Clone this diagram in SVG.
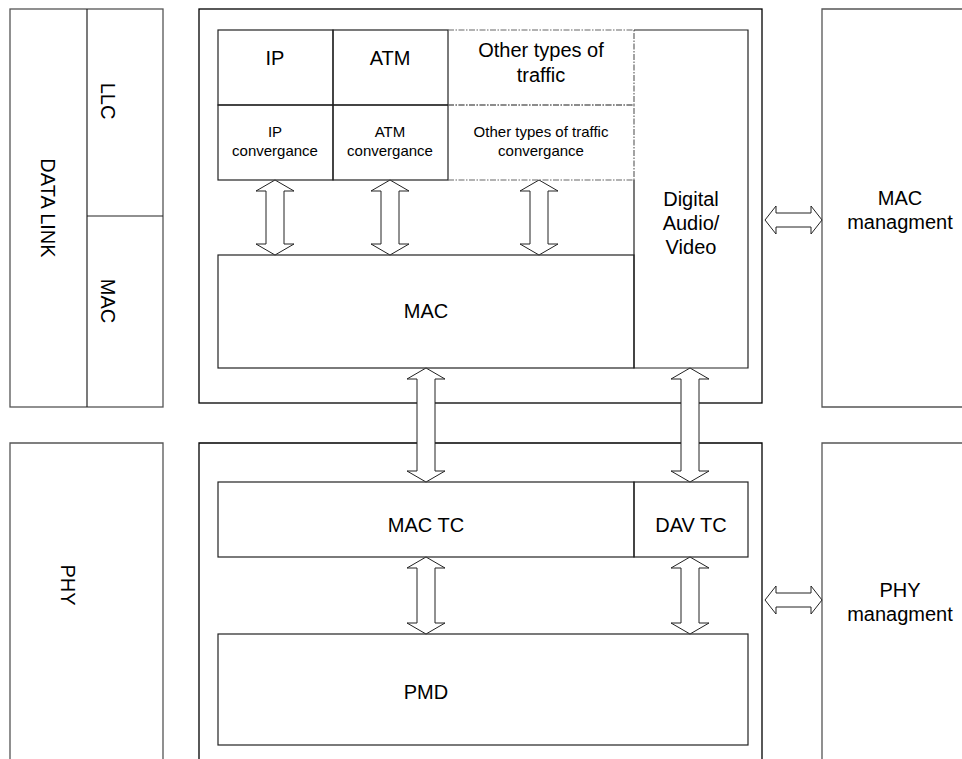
<svg xmlns="http://www.w3.org/2000/svg" width="962" height="759" viewBox="0 0 962 759">
<style>
.box{fill:none;stroke:#000;stroke-width:1.3}
.sbox{fill:none;stroke:#555;stroke-width:1.3}
.in{fill:none;stroke:#222;stroke-width:1.2}
.dot{fill:none;stroke:#666;stroke-width:1.2;stroke-dasharray:6 1.5 1.5 1.5}
.arr{fill:#fff;stroke:#222;stroke-width:1}
text{font-family:"Liberation Sans",Arial,sans-serif;fill:#000;text-anchor:middle}
.l{font-size:20px}
.s{font-size:15px}
</style>
<rect width="962" height="759" fill="#fff"/>
<g id="datalink">
<rect class="sbox" x="10" y="9" width="153" height="398"/>
<line class="in" x1="87" y1="9" x2="87" y2="407"/>
<line class="in" x1="87" y1="216" x2="163" y2="216"/>
<text class="l" transform="translate(41,208) rotate(90)">DATA LINK</text>
<text class="l" transform="translate(101,101) rotate(90)">LLC</text>
<text class="l" transform="translate(101,301) rotate(90)">MAC</text>
</g>
<g id="phy">
<path class="sbox" d="M10,770 V443 H163 V770"/>
<text class="l" transform="translate(61,585) rotate(90)">PHY</text>
</g>
<g id="top-box">
<rect class="box" x="199" y="9" width="563" height="394"/>
</g>
<g id="bottom-box">
<path class="box" d="M199,770 V443 H762 V770"/>
</g>
<g id="mac-mgmt">
<path class="sbox" d="M970,9 H822 V407 H970"/>
<text class="l" x="900" y="205">MAC</text>
<text class="l" x="900" y="229">managment</text>
</g>
<g id="phy-mgmt">
<path class="sbox" d="M970,443 H822 V770"/>
<text class="l" x="900" y="597">PHY</text>
<text class="l" x="900" y="621">managment</text>
</g>
<g id="ip">
<rect class="in" x="218" y="30" width="115" height="75"/>
<text class="l" x="275" y="65">IP</text>
</g>
<g id="atm">
<rect class="in" x="333" y="30" width="115" height="75"/>
<text class="l" x="390" y="65">ATM</text>
</g>
<g id="ip-conv">
<rect class="in" x="218" y="105" width="115" height="75"/>
<text class="s" x="275" y="137">IP</text>
<text class="s" x="275" y="156">convergance</text>
</g>
<g id="atm-conv">
<rect class="in" x="333" y="105" width="115" height="75"/>
<text class="s" x="390" y="137">ATM</text>
<text class="s" x="390" y="156">convergance</text>
</g>
<g id="other">
<path class="dot" d="M448,30 H634 V105 H448"/>
<text class="l" x="541" y="57">Other types of</text>
<text class="l" x="541" y="82">traffic</text>
</g>
<g id="other-conv">
<path class="dot" d="M448,105 H634 V180 H448"/>
<text class="s" x="541" y="137">Other types of traffic</text>
<text class="s" x="541" y="156">convergance</text>
</g>
<g id="dav">
<path class="in" d="M634,30 H748 V368 H634 V180"/>
<text class="l" x="691" y="206">Digital</text>
<text class="l" x="691" y="230">Audio/</text>
<text class="l" x="691" y="254">Video</text>
</g>
<g id="mac">
<rect class="in" x="218" y="255" width="416" height="113"/>
<text class="l" x="426" y="318">MAC</text>
</g>
<g id="mac-tc">
<rect class="in" x="218" y="482" width="416" height="75"/>
<text class="l" x="426" y="532">MAC TC</text>
</g>
<g id="dav-tc">
<rect class="in" x="634" y="482" width="114" height="75"/>
<text class="l" x="691" y="532">DAV TC</text>
</g>
<g id="pmd">
<rect class="in" x="218" y="634" width="530" height="111"/>
<text class="l" x="426" y="699">PMD</text>
</g>
<g id="connectors">
<path class="arr" d="M275,180 L294,191 H284 V244 H294 L275,255 L256,244 H266 V191 H256 Z"/>
<path class="arr" d="M390,180 L409,191 H399 V244 H409 L390,255 L371,244 H381 V191 H371 Z"/>
<path class="arr" d="M539,180 L558,191 H548 V244 H558 L539,255 L520,244 H530 V191 H520 Z"/>
<path class="arr" d="M426,368 L445,379 H435 V471 H445 L426,482 L407,471 H417 V379 H407 Z"/>
<path class="arr" d="M690,368 L709,379 H699 V471 H709 L690,482 L671,471 H681 V379 H671 Z"/>
<path class="arr" d="M426,557 L445,568 H435 V623 H445 L426,634 L407,623 H417 V568 H407 Z"/>
<path class="arr" d="M690,557 L709,568 H699 V623 H709 L690,634 L671,623 H681 V568 H671 Z"/>
<path class="arr" d="M765,220 L776,206 V213 H811 V206 L822,220 L811,234 V227 H776 V234 Z"/>
<path class="arr" d="M765,600 L776,586 V593 H811 V586 L822,600 L811,614 V607 H776 V614 Z"/>
</g>
</svg>
